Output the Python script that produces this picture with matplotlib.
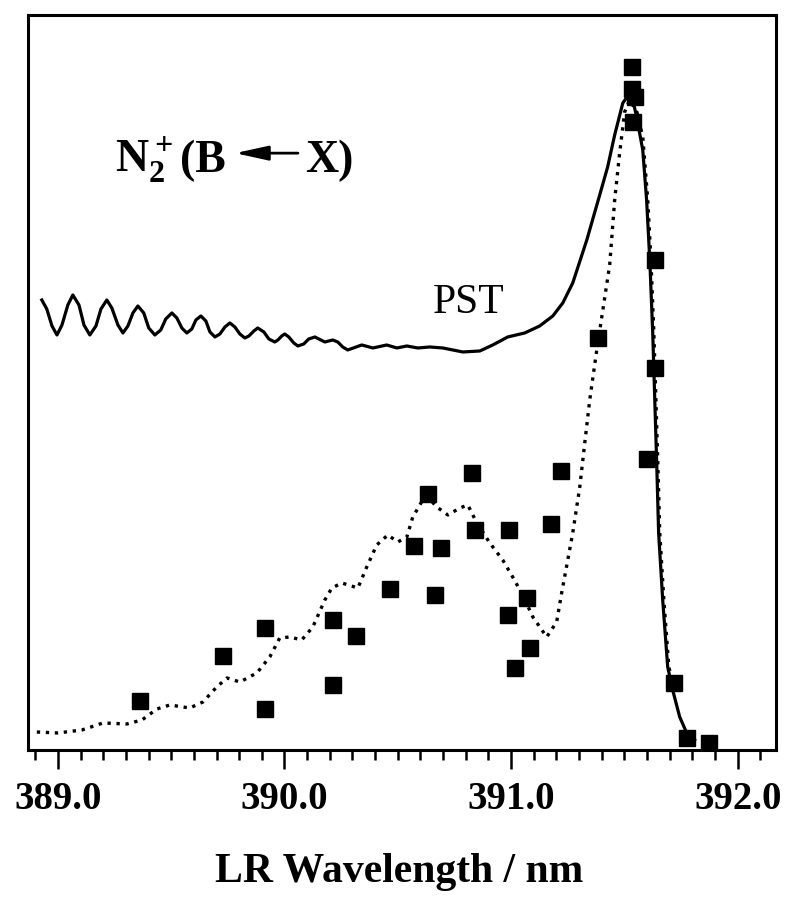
import matplotlib
matplotlib.use("Agg")
import matplotlib.pyplot as plt
from matplotlib.ticker import MultipleLocator, FormatStrFormatter

plt.rcParams["font.family"] = ["Liberation Serif", "DejaVu Serif"]
plt.rcParams["mathtext.fontset"] = "custom"
plt.rcParams["mathtext.rm"] = "Liberation Serif"
plt.rcParams["mathtext.bf"] = "Liberation Serif:bold"

# PST simulation (solid line), wavelength in nm, intensity in arb. units
pst_wl = [388.929, 388.951, 388.974, 388.996, 389.018, 389.044, 389.066, 389.093, 389.115, 389.141,
          389.168, 389.190, 389.216, 389.238, 389.265, 389.287, 389.309, 389.331, 389.353, 389.379,
          389.401, 389.428, 389.454, 389.476, 389.503, 389.525, 389.547, 389.569, 389.591, 389.609,
          389.631, 389.653, 389.671, 389.693, 389.715, 389.737, 389.759, 389.781, 389.803, 389.825,
          389.843, 389.865, 389.882, 389.909, 389.931, 389.957, 389.971, 389.988, 390.001, 390.019,
          390.041, 390.059, 390.085, 390.107, 390.134, 390.178, 390.213, 390.235, 390.257, 390.279,
          390.341, 390.390, 390.451, 390.496, 390.540, 390.588, 390.641, 390.699, 390.787, 390.862,
          390.919, 390.985, 391.060, 391.126, 391.184, 391.228, 391.272, 391.334, 391.391, 391.426,
          391.457, 391.493, 391.515, 391.537, 391.554, 391.581, 391.598, 391.612, 391.625, 391.634,
          391.643, 391.651, 391.669, 391.691, 391.713, 391.744, 391.775, 391.810]
pst_int = [450, 441, 424, 415, 425, 445, 455, 445, 425, 415,
           424, 441, 450, 442, 425, 417, 424, 437, 444, 437,
           422, 415, 420, 431, 437, 432, 422, 417, 421, 430,
           434, 429, 418, 413, 416, 423, 427, 423, 416, 412,
           414, 419, 422, 418, 411, 408, 410, 414, 416, 413,
           407, 404, 406, 411, 413, 408, 410, 408, 403, 400,
           405, 402, 405, 402, 404, 402, 403, 402, 398, 399,
           405, 413, 417, 424, 434, 447, 467, 510, 555, 583,
           615, 647, 654, 650, 633, 600, 550, 490, 417, 350,
           283, 217, 150, 83, 60, 33, 17, 10]

# second simulation (dotted line)
sim_wl = [388.907, 389.000, 389.106, 389.199, 389.304, 389.371, 389.437, 389.494, 389.582, 389.640,
          389.701, 389.746, 389.803, 389.878, 389.935, 389.979, 390.024, 390.076, 390.125, 390.178,
          390.209, 390.253, 390.324, 390.363, 390.407, 390.456, 390.500, 390.540, 390.566, 390.610,
          390.632, 390.672, 390.721, 390.774, 390.809, 390.849, 390.906, 390.963, 391.007, 391.051,
          391.096, 391.157, 391.201, 391.223, 391.250, 391.272, 391.303, 391.325, 391.347, 391.378,
          391.435, 391.457, 391.479, 391.501, 391.523, 391.555, 391.581, 391.603, 391.617, 391.630,
          391.639, 391.648, 391.656, 391.674, 391.696, 391.714]
sim_int = [18, 17, 20, 27, 26, 30, 41, 45, 42, 48,
           63, 72, 68, 77, 93, 112, 113, 110, 123, 150,
           162, 167, 162, 183, 205, 215, 208, 213, 233, 250,
           253, 243, 235, 242, 245, 227, 207, 190, 173, 155,
           133, 113, 128, 157, 190, 217, 263, 307, 350, 400,
           485, 550, 597, 638, 650, 638, 613, 550, 490, 417,
           350, 283, 217, 150, 83, 67]

# experimental points (squares)
exp_wl = [389.362, 389.728, 389.913, 389.913, 390.213, 390.213, 390.315, 390.465, 390.571, 390.632,
          390.663, 390.690, 390.826, 390.840, 390.985, 390.990, 391.016, 391.069, 391.082, 391.175,
          391.219, 391.382, 391.532, 391.532, 391.546, 391.537, 391.598, 391.634, 391.634, 391.718,
          391.775, 391.872]
exp_int = [49, 94, 122, 41, 130, 65, 114, 161, 204, 256,
           155, 202, 277, 220, 135, 220, 82, 152, 102, 226,
           279, 412, 683, 661, 653, 628, 291, 490, 382, 67,
           12, 7]

fig = plt.figure(figsize=(7.88, 8.97), dpi=100)
ax = fig.add_axes([0.0355, 0.1639, 0.9490, 0.8194])

ax.plot(pst_wl, pst_int, color="black", lw=2.3, solid_joinstyle="round")
ax.plot(sim_wl, sim_int, color="black", lw=2.4, linestyle=(0, (1, 1.7)))
ax.plot(exp_wl, exp_int, linestyle="none", marker="s", ms=11, color="black")

ax.set_xlim(388.868, 392.168)
ax.set_ylim(0, 735)

for s in ax.spines.values():
    s.set_linewidth(2.2)

ax.set_yticks([])
ax.xaxis.set_major_locator(MultipleLocator(1.0))
ax.xaxis.set_minor_locator(MultipleLocator(0.1))
ax.xaxis.set_major_formatter(FormatStrFormatter("%.1f"))
ax.tick_params(axis="x", which="major", direction="out", length=14, width=1.8, pad=8,
               labelsize=28)
ax.tick_params(axis="x", which="minor", direction="out", length=7, width=1.8)
for lab in ax.get_xticklabels():
    lab.set_fontweight("bold")

fig.text(0.506, 0.017, "LR Wavelength / nm", ha="center", va="baseline",
         fontsize=30, fontweight="bold")

# species label
ax.text(0.116, 0.786, r"$\mathbf{N_2^+}$", transform=ax.transAxes, fontsize=33,
        fontweight="bold", ha="left", va="baseline")
ax.text(0.203, 0.786, "(B", transform=ax.transAxes, fontsize=33,
        fontweight="bold", ha="left", va="baseline")
ax.annotate("", xy=(0.277, 0.812), xytext=(0.361, 0.812), xycoords="axes fraction",
            arrowprops=dict(arrowstyle="-|>,head_length=1.0,head_width=0.22",
                            mutation_scale=20, lw=2, color="black", shrinkA=0, shrinkB=0))
ax.text(0.370, 0.786, "X)", transform=ax.transAxes, fontsize=33,
        fontweight="bold", ha="left", va="baseline")

ax.text(0.541, 0.595, "PST", transform=ax.transAxes, fontsize=30,
        ha="left", va="baseline")

fig.savefig("out.png", dpi=100)
